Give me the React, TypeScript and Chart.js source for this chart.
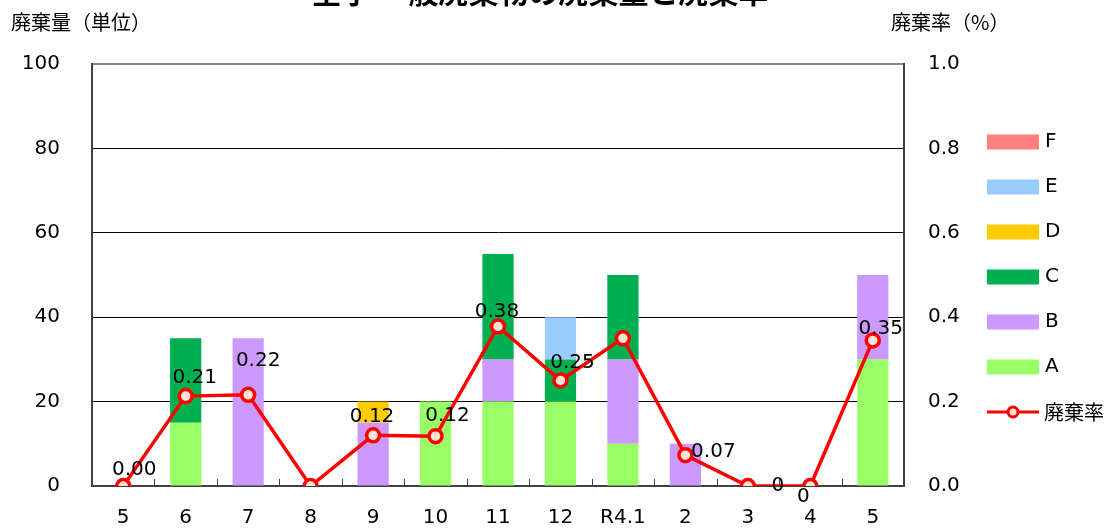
import React, { useEffect, useRef } from 'react';
import { Chart, registerables } from 'chart.js';

Chart.register(...registerables);

const TITLE = '全学 一般廃棄物の廃棄量と廃棄率';
const LEFT_TITLE = '廃棄量（単位）';
const RIGHT_TITLE = '廃棄率（%）';
const RATE_NAME = '廃棄率';

const categories = ['5', '6', '7', '8', '9', '10', '11', '12', 'R4.1', '2', '3', '4', '5'];
const seriesA = [0, 15, 0, 0, 0, 20, 20, 20, 10, 0, 0, 0, 30];
const seriesB = [0, 0, 35, 0, 15, 0, 10, 0, 20, 10, 0, 0, 20];
const seriesC = [0, 20, 0, 0, 0, 0, 25, 10, 20, 0, 0, 0, 0];
const seriesD = [0, 0, 0, 0, 5, 0, 0, 0, 0, 0, 0, 0, 0];
const seriesE = [0, 0, 0, 0, 0, 0, 0, 10, 0, 0, 0, 0, 0];
const seriesF = [0, 0, 0, 0, 0, 0, 0, 0, 0, 0, 0, 0, 0];
const rates = [0, 0.213, 0.216, 0, 0.12, 0.118, 0.378, 0.25, 0.35, 0.073, 0, 0, 0.345];
const rateLabels = ['0.00', '0.21', '0.22', '', '0.12', '0.12', '0.38', '0.25', '', '0.07', '0', '0', '0.35'];
const leftTicks = [0, 20, 40, 60, 80, 100];
const rightTicks = [0, 0.2, 0.4, 0.6, 0.8, 1.0];

// label placement relative to its point (dx, dy in px)
const labelOffsets: [number, number][] = [
  [11, -16], [9, -18], [10, -34], [0, 0], [-1, -19], [12, -20], [-1, -15],
  [12, -18], [0, 0], [28, -3], [30, 0], [-7, 11], [8, -12],
];

const FONT = '"DejaVu Sans", Verdana, sans-serif';
const CJK = '"Noto Sans CJK JP", "Noto Sans", sans-serif';
const AXIS_COLOR = '#404040';

const barSeries = [
  { label: 'A', data: seriesA, color: '#99FF66' },
  { label: 'B', data: seriesB, color: '#CC99FF' },
  { label: 'C', data: seriesC, color: '#00B050' },
  { label: 'D', data: seriesD, color: '#FFCC00' },
  { label: 'E', data: seriesE, color: '#99CCFF' },
  { label: 'F', data: seriesF, color: '#FF8080' },
];

const overlayPlugin = {
  id: 'overlay',
  afterDatasetsDraw(chart: any) {
    const ctx = chart.ctx;
    const lineIdx = chart.data.datasets.length - 1;
    const meta = chart.getDatasetMeta(lineIdx);
    ctx.save();
    ctx.font = `20px ${FONT}`;
    ctx.fillStyle = '#000';
    ctx.textAlign = 'center';
    ctx.textBaseline = 'middle';
    rateLabels.forEach((t, i) => {
      if (!t) return;
      const p = meta.data[i];
      const [dx, dy] = labelOffsets[i];
      ctx.fillText(t, p.x + dx, p.y + dy);
    });
    ctx.restore();
  },
  afterDraw(chart: any) {
    const ctx = chart.ctx;
    const area = chart.chartArea;
    ctx.save();
    // title (clipped at top in the reference)
    ctx.fillStyle = '#000';
    ctx.font = `bold 30px ${CJK}`;
    ctx.textAlign = 'center';
    ctx.textBaseline = 'alphabetic';
    ctx.fillText(TITLE, 540, 3);
    // axis titles
    ctx.font = `20px ${CJK}`;
    ctx.textAlign = 'left';
    ctx.textBaseline = 'middle';
    ctx.fillText(LEFT_TITLE, 11, 22);
    ctx.fillText(RIGHT_TITLE, 891, 22);
    // inward tick marks on category axis
    const xs = chart.scales.x;
    ctx.strokeStyle = AXIS_COLOR;
    ctx.lineWidth = 1;
    for (let i = 0; i < categories.length - 1; i++) {
      const x = Math.round((xs.getPixelForValue(i) + xs.getPixelForValue(i + 1)) / 2) + 0.5;
      ctx.beginPath();
      ctx.moveTo(x, area.bottom);
      ctx.lineTo(x, area.bottom - 7);
      ctx.stroke();
    }
    // legend
    const lx = 987;
    const boxW = 52;
    const boxH = 15;
    const startY = 142;
    const gap = 45;
    const bars = chart.data.datasets.slice(0, barSeries.length).slice().reverse();
    bars.forEach((ds: any, k: number) => {
      const cy = startY + k * gap;
      ctx.fillStyle = ds.backgroundColor;
      ctx.fillRect(lx, cy - boxH / 2, boxW, boxH);
      ctx.fillStyle = '#000';
      ctx.font = `20px ${FONT}`;
      ctx.fillText(ds.label, lx + boxW + 6, cy);
    });
    const ly = startY + bars.length * gap;
    const lineDs = chart.data.datasets[chart.data.datasets.length - 1];
    ctx.strokeStyle = lineDs.borderColor;
    ctx.lineWidth = 3;
    ctx.beginPath();
    ctx.moveTo(lx, ly);
    ctx.lineTo(lx + boxW, ly);
    ctx.stroke();
    ctx.beginPath();
    ctx.arc(lx + boxW / 2, ly, 5, 0, Math.PI * 2);
    ctx.fillStyle = lineDs.pointBackgroundColor;
    ctx.fill();
    ctx.stroke();
    ctx.fillStyle = '#000';
    ctx.font = `20px ${CJK}`;
    ctx.fillText(lineDs.label, lx + boxW + 5, ly);
    ctx.restore();
  },
};

export default function App() {
  const ref = useRef<HTMLCanvasElement | null>(null);

  useEffect(() => {
    if (!ref.current) return;
    const datasets: any[] = barSeries.map((s) => ({
      type: 'bar',
      label: s.label,
      data: s.data,
      backgroundColor: s.color,
      borderWidth: 0,
      yAxisID: 'y',
      stack: 'waste',
      barPercentage: 0.5,
      categoryPercentage: 1,
      order: 2,
    }));
    datasets.push({
      type: 'line',
      label: RATE_NAME,
      data: rates,
      yAxisID: 'y1',
      borderColor: '#FF0000',
      borderWidth: 3.5,
      pointRadius: 6.5,
      pointBorderWidth: 3.5,
      pointBackgroundColor: '#FCE4D6',
      pointBorderColor: '#FF0000',
      tension: 0,
      order: 1,
    });

    const chart = new Chart(ref.current, {
      type: 'bar',
      data: { labels: categories, datasets },
      plugins: [overlayPlugin],
      options: {
        responsive: false,
        animation: false,
        devicePixelRatio: 1,
        layout: { padding: { left: 0, right: 0, top: 64, bottom: 0 } },
        plugins: {
          legend: { display: false },
          title: { display: false },
          tooltip: { enabled: false },
        },
        scales: {
          x: {
            stacked: true,
            offset: true,
            grid: { display: false, drawTicks: false },
            border: { display: true, color: AXIS_COLOR, width: 2 },
            ticks: { color: '#000', font: { family: FONT, size: 20 }, padding: 20, maxRotation: 0, autoSkip: false },
            afterFit: (s: any) => { s.height = 44; },
          },
          y: {
            stacked: true,
            position: 'left',
            min: 0,
            max: 100,
            afterBuildTicks: (s: any) => { s.ticks = leftTicks.map((v) => ({ value: v })); },
            grid: {
              drawTicks: false,
              color: (c: any) => (c.tick && c.tick.value === 100 ? '#888888' : '#000000'),
              lineWidth: (c: any) => (c.tick && c.tick.value === 100 ? 2 : 1),
            },
            border: { display: true, color: AXIS_COLOR, width: 2 },
            ticks: { color: '#000', font: { family: FONT, size: 20 }, padding: 32 },
            afterFit: (s: any) => { s.width = 92; },
          },
          y1: {
            position: 'right',
            min: 0,
            max: 1,
            afterBuildTicks: (s: any) => { s.ticks = rightTicks.map((v) => ({ value: v })); },
            grid: { display: false, drawTicks: false },
            border: { display: true, color: AXIS_COLOR, width: 2 },
            ticks: {
              color: '#000',
              font: { family: FONT, size: 20 },
              padding: 24,
              callback: (v: any) => Number(v).toFixed(1),
            },
            afterFit: (s: any) => { s.width = 206; },
          },
        },
      } as any,
    });
    return () => chart.destroy();
  }, []);

  return (
    <div style={{ position: 'absolute', left: 0, top: 0, width: 1110, height: 530, background: '#fff' }}>
      <canvas ref={ref} width={1110} height={530} style={{ display: 'block', width: 1110, height: 530 }} />
    </div>
  );
}
